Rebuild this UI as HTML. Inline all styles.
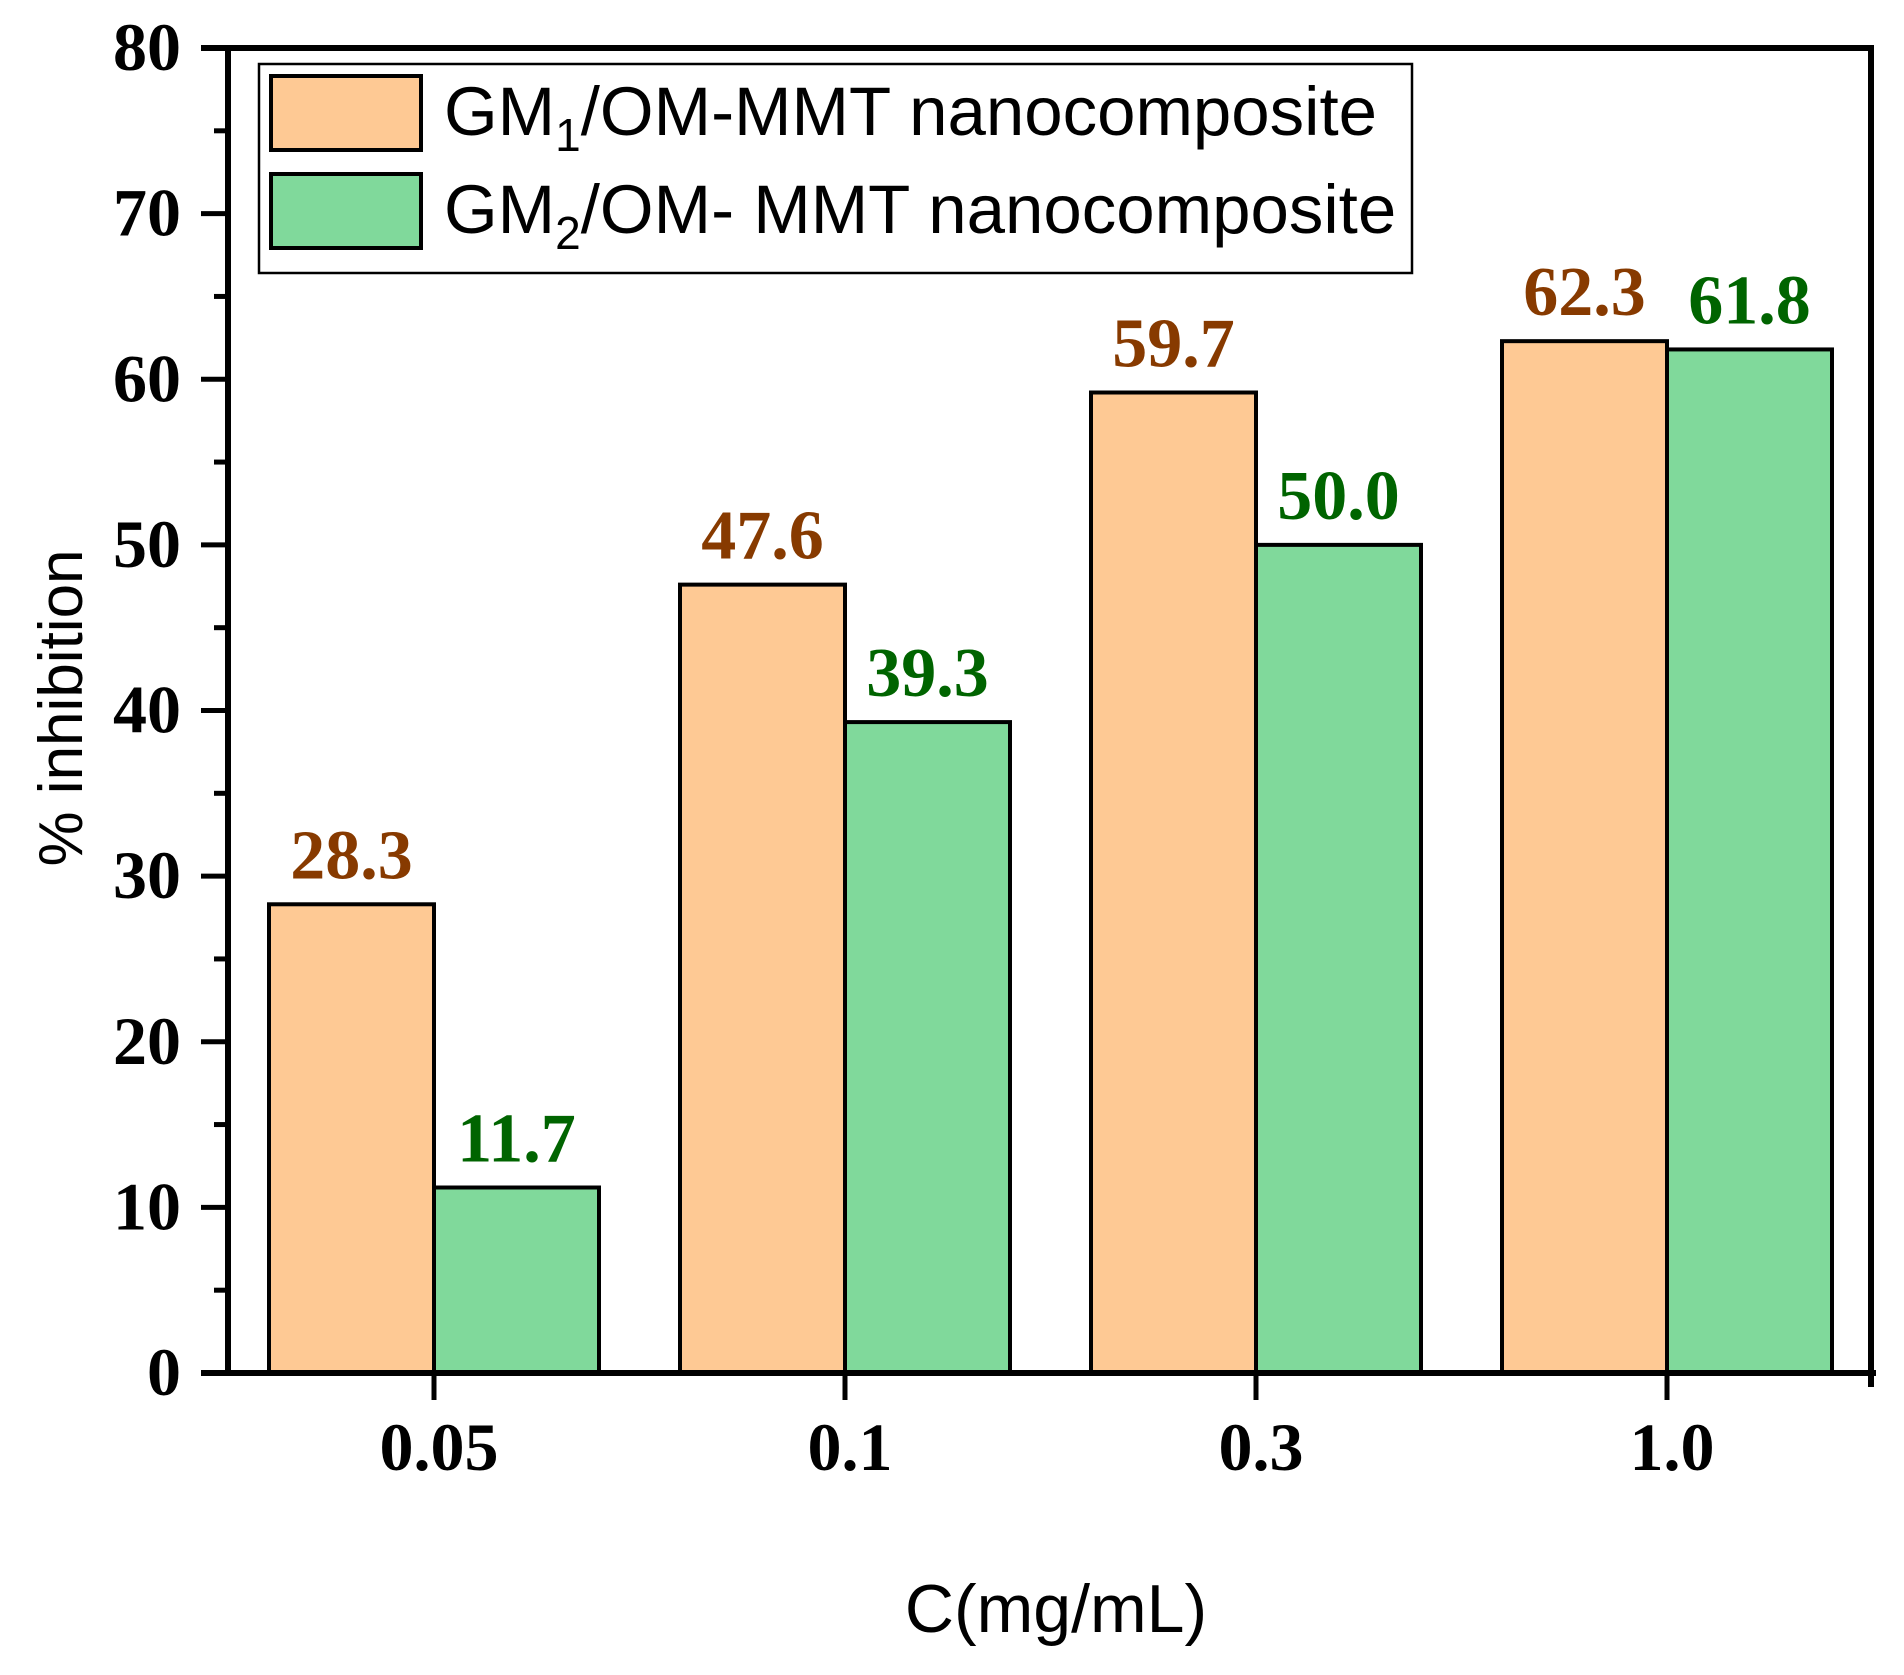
<!DOCTYPE html>
<html><head><meta charset="utf-8"><style>
html,body{margin:0;padding:0;background:#fff;}
svg{display:block;}
.tick{font-family:"Liberation Serif",serif;font-weight:bold;font-size:68px;fill:#000;}
.lbl{font-family:"Liberation Serif",serif;font-weight:bold;font-size:70px;}
.sans{font-family:"Liberation Sans",sans-serif;fill:#000;}
</style></head><body>
<svg id="chart" width="1904" height="1675" viewBox="0 0 1904 1675">
<g id="bars"></g>
<g id="labels"></g>
<g id="axes"></g>
<g>
<rect x="259" y="64" width="1153" height="209" fill="#fff" stroke="#000" stroke-width="2.5"/>
<rect x="271" y="76" width="150" height="74" fill="#FEC994" stroke="#000" stroke-width="4"/>
<rect x="271" y="174" width="150" height="74" fill="#80D99B" stroke="#000" stroke-width="4"/>
<text class="sans" x="444" y="135" font-size="69">GM<tspan font-size="46" dy="16">1</tspan><tspan dy="-16">/OM-MMT nanocomposite</tspan></text>
<text class="sans" x="444" y="233" font-size="69">GM<tspan font-size="46" dy="16">2</tspan><tspan dy="-16">/OM- MMT nanocomposite</tspan></text>
</g>
<text class="sans" font-size="62" transform="translate(82,708) rotate(-90)" text-anchor="middle">% inhibition</text>
<text class="sans" x="1056" y="1632" font-size="68" text-anchor="middle">C(mg/mL)</text>
</svg>
<script>
const categories = ["0.05","0.1","0.3","1.0"];
const gm1Values = [28.3,47.6,59.2,62.3];
const gm2Values = [11.2,39.3,50.0,61.8];
const gm1Labels = ["28.3","47.6","59.7","62.3"];
const gm2Labels = ["11.7","39.3","50.0","61.8"];
const yTicks = [0,10,20,30,40,50,60,70,80];

const NS="http://www.w3.org/2000/svg";
const X0=228, X1=1871, Y0=1373, Y1=48, YMAX=80;
function yScale(v){return Y0-(v/YMAX)*(Y0-Y1);}
function xCenter(i){return 434+i*411;}
const BW=165;
function mk(tag,attrs,parent){const e=document.createElementNS(NS,tag);for(const k in attrs)e.setAttribute(k,attrs[k]);parent.appendChild(e);return e;}
const bars=document.getElementById('bars'), labels=document.getElementById('labels'), axes=document.getElementById('axes');

categories.forEach((c,i)=>{
  const cx=xCenter(i);
  const r1=mk('rect',{x:cx-BW,y:yScale(gm1Values[i]),width:BW,height:Y0-yScale(gm1Values[i]),fill:'#FEC994',stroke:'#000','stroke-width':4},bars);
  
  
  const r2=mk('rect',{x:cx,y:yScale(gm2Values[i]),width:BW,height:Y0-yScale(gm2Values[i]),fill:'#80D99B',stroke:'#000','stroke-width':4},bars);
  
  
  const t1=mk('text',{x:cx-BW/2,y:yScale(gm1Values[i])-26,'text-anchor':'middle',fill:'#873A00',class:'lbl'},labels);
  t1.textContent=gm1Labels[i];
  
  
  const t2=mk('text',{x:cx+BW/2,y:yScale(gm2Values[i])-26,'text-anchor':'middle',fill:'#006400',class:'lbl'},labels);
  t2.textContent=gm2Labels[i];
  
  
  const tk=mk('line',{x1:cx,x2:cx,y1:Y0,y2:Y0+27,stroke:'#000','stroke-width':5},axes);
  
  
  const tl=mk('text',{x:cx+5,y:1470,'text-anchor':'middle',class:'tick'},axes);
  tl.textContent=c;
  
  
});
yTicks.forEach((v,i)=>{
  const y=yScale(v);
  const tk=mk('line',{x1:X0-27,x2:X0,y1:y,y2:y,stroke:'#000','stroke-width':5},axes);
  
  
  const tl=mk('text',{x:181,y:y+22,'text-anchor':'end',class:'tick'},axes);
  tl.textContent=String(v);
  
  
  if(i<yTicks.length-1){
    const ym=yScale(v+5);
    const mt=mk('line',{x1:X0-14,x2:X0,y1:ym,y2:ym,stroke:'#000','stroke-width':5},axes);
    
    
  }
});
const frame=[
  ['y-axis-line',X0,Y1-2,X0,Y0+3],
  ['x-axis-line',X0-27,Y0,X1+5,Y0],
  ['top-axis-line',X0-27,Y1,X1+3,Y1],
  ['right-axis-line',X1,Y1-3,X1,Y0+3]];
frame.forEach(f=>{
  const l=mk('line',{x1:f[1],y1:f[2],x2:f[3],y2:f[4],stroke:'#000','stroke-width':6},axes);
  
  
});
const et=mk('line',{x1:X1,x2:X1,y1:Y0,y2:Y0+14,stroke:'#000','stroke-width':6},axes);


</script>
</body></html>
